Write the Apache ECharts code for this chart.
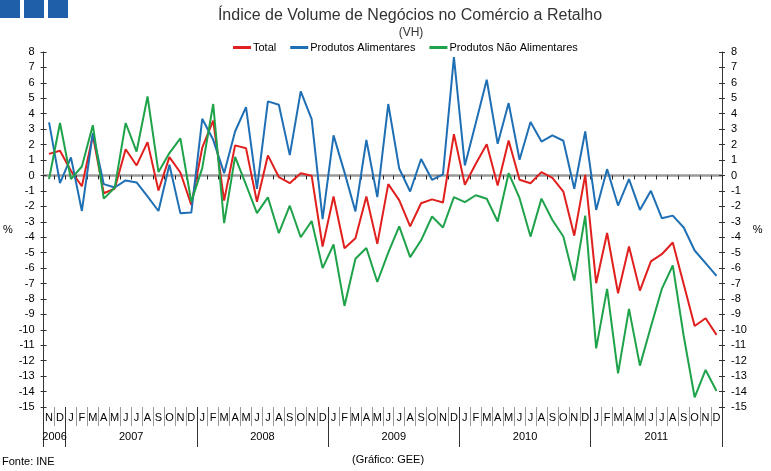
<!DOCTYPE html>
<html>
<head>
<meta charset="utf-8">
<script src="https://cdn.jsdelivr.net/npm/echarts@6/dist/echarts.min.js"></script>
<style>html,body{margin:0;padding:0;background:#fff;}#c{width:771px;height:471px;}</style>
</head>
<body>
<div id="c"></div>
<script>
// Months Nov 2006 .. Dec 2011
const monthLabels = ['N','D',
 'J','F','M','A','M','J','J','A','S','O','N','D',
 'J','F','M','A','M','J','J','A','S','O','N','D',
 'J','F','M','A','M','J','J','A','S','O','N','D',
 'J','F','M','A','M','J','J','A','S','O','N','D',
 'J','F','M','A','M','J','J','A','S','O','N','D'];
const yearLabels = ['2006','2007','2008','2009','2010','2011'];
const yearStart = [0, 2, 14, 26, 38, 50];
const yearLabelIndex = [0, 7, 19, 31, 43, 55];
const categories = monthLabels.map((m, i) => {
  let y = 0; for (let k = 0; k < yearStart.length; k++) if (i >= yearStart[k]) y = k;
  return m + ' ' + yearLabels[y] + ' #' + i;
});

const total = [1.4, 1.6,
 0.3, -0.7, 2.6, -1.15, -0.85, 1.7, 0.65, 2.16, -0.97, 1.19, 0.19, -1.9,
 1.8, 3.55, -1.63, 1.95, 1.77, -1.7, 1.3, -0.1, -0.5, 0.14, -0.02, -4.6,
 -1.36, -4.71, -4.06, -1.36, -4.43, -0.56, -1.6, -3.3, -1.8, -1.55, -1.75, 2.68,
 -0.6, 0.76, 2.03, -0.65, 2.27, -0.28, -0.5, 0.22, -0.15, -1.04, -3.9, 0.04,
 -6.98, -3.73, -7.63, -4.6, -7.46, -5.57, -5.1, -4.34, -7.05, -9.75, -9.25, -10.33];
const alimentares = [3.44, -0.5,
 1.17, -2.3, 2.75, -0.56, -0.78, -0.32, -0.45, -1.35, -2.3, 0.7, -2.44, -2.4,
 3.67, 2.31, 0.15, 2.85, 4.43, -0.87, 4.8, 4.58, 1.32, 5.45, 3.65, -2.83,
 2.6, 0.2, -2.33, 2.3, -1.4, 4.63, 0.45, -1.04, 1.07, -0.28, 0.07, 7.67,
 0.65, 3.4, 6.2, 2.05, 4.69, 1.02, 3.46, 2.2, 2.6, 2.25, -0.86, 2.85,
 -2.23, 0.41, -1.95, -0.24, -2.23, -0.99, -2.77, -2.6, -3.37, -4.86, -5.68, -6.5];
const naoAlimentares = [-0.24, 3.4,
 -0.24, 0.58, 3.26, -1.5, -0.8, 3.4, 1.55, 5.12, 0.22, 1.45, 2.4, -1.7,
 0.48, 4.63, -3.09, 1.2, -0.6, -2.44, -1.42, -3.74, -1.96, -4.0, -2.95, -6.0,
 -4.47, -8.45, -5.4, -4.7, -6.9, -5.0, -3.3, -5.29, -4.2, -2.66, -3.37, -1.4,
 -1.73, -1.28, -1.51, -2.98, 0.15, -1.47, -3.96, -1.5, -2.88, -3.95, -6.81, -2.6,
 -11.2, -7.35, -12.82, -8.64, -12.32, -9.8, -7.35, -5.83, -10.4, -14.37, -12.6, -13.96];

const FONT = 'Liberation Sans, Arial, sans-serif';
const chart = echarts.init(document.getElementById('c'));
const yBase = {
  type: 'value', min: -15, max: 8, interval: 1,
  splitLine: {show: false},
  axisLine: {show: true, lineStyle: {color: '#333', width: 1}},
  axisTick: {show: true, length: 3, lineStyle: {color: '#333'}},
  axisLabel: {color: '#000', fontSize: 11, fontFamily: FONT, margin: 9},
  name: '%', nameLocation: 'middle', nameRotate: 0, nameGap: 30,
  nameTextStyle: {color: '#000', fontSize: 11, fontFamily: FONT}
};
const yInner = {
  type: 'value', min: -15, max: 8, interval: 1,
  splitLine: {show: false},
  axisLine: {show: false},
  axisTick: {show: true, inside: true, length: 3, lineStyle: {color: '#333'}},
  axisLabel: {show: false}
};
chart.setOption({
  backgroundColor: '#fff',
  animation: false,
  title: [
    {text: 'Índice de Volume de Negócios no Comércio a Retalho', left: 405, top: 3, textAlign: 'center',
     textStyle: {fontSize: 16, fontWeight: 'normal', color: '#333', fontFamily: FONT}},
    {text: '(VH)', left: 406, top: 22, textAlign: 'center',
     textStyle: {fontSize: 12, fontWeight: 'normal', color: '#333', fontFamily: FONT}}
  ],
  legend: {
    left: 228, top: 37, icon: 'rect', itemWidth: 18, itemHeight: 3, itemGap: 14,
    textStyle: {fontSize: 11, color: '#000', fontFamily: FONT, padding: [0, 0, 0, -3]},
    data: ['Total', 'Produtos Alimentares', 'Produtos Não Alimentares']
  },
  grid: {left: 43, right: 49, top: 52, bottom: 64, containLabel: false},
  xAxis: [
    { // zero line
      type: 'category', data: categories, position: 'bottom',
      axisLine: {show: true, onZero: true, lineStyle: {color: '#9a9a9a', width: 2.5}},
      axisTick: {show: true, interval: 0, length: 4, lineStyle: {color: '#222'}},
      axisLabel: {show: false}, splitLine: {show: false}
    },
    { // months
      type: 'category', data: categories, position: 'bottom',
      axisLine: {show: false, onZero: false},
      axisTick: {show: true, interval: 0, length: 19, lineStyle: {color: '#999'}},
      axisLabel: {show: true, interval: 0, margin: 5, fontSize: 11, color: '#000', fontFamily: FONT,
        formatter: (v, i) => monthLabels[i]},
      splitLine: {show: false}
    },
    { // years
      type: 'category', data: categories, position: 'bottom',
      axisLine: {show: false, onZero: false},
      axisTick: {show: true, length: 40, lineStyle: {color: '#333'},
        interval: (i) => yearStart.indexOf(i) >= 0},
      axisLabel: {show: true, margin: 24, fontSize: 11, color: '#000', fontFamily: FONT,
        interval: (i) => yearLabelIndex.indexOf(i) >= 0,
        padding: [0, 0, 0, 11],
        formatter: (v, i) => { const k = yearLabelIndex.indexOf(i); return k >= 0 ? yearLabels[k] : ''; }},
      splitLine: {show: false}
    }
  ],
  yAxis: [
    Object.assign({}, yBase, {position: 'left'}),
    Object.assign({}, yBase, {position: 'right'}),
    Object.assign({}, yInner, {position: 'left'}),
    Object.assign({}, yInner, {position: 'right'})
  ],
  series: [
    {name: 'Total', type: 'line', data: total, symbol: 'none', xAxisIndex: 0, yAxisIndex: 0,
     color: '#e0201e', lineStyle: {width: 2, color: '#e0201e'}},
    {name: 'Produtos Alimentares', type: 'line', data: alimentares, symbol: 'none', xAxisIndex: 0, yAxisIndex: 0,
     color: '#1f6fb4', lineStyle: {width: 2, color: '#1f6fb4'}},
    {name: 'Produtos Não Alimentares', type: 'line', data: naoAlimentares, symbol: 'none', xAxisIndex: 0, yAxisIndex: 0,
     color: '#1ea24a', lineStyle: {width: 2, color: '#1ea24a'}}
  ],
  graphic: [
    {type: 'rect', shape: {x: 0, y: 0, width: 20, height: 18}, style: {fill: '#1f5ea8'}},
    {type: 'rect', shape: {x: 24, y: 0, width: 20, height: 18}, style: {fill: '#1f5ea8'}},
    {type: 'rect', shape: {x: 48, y: 0, width: 20, height: 18}, style: {fill: '#1f5ea8'}},
    {type: 'text', left: 2, top: 456, style: {text: 'Fonte: INE', fontSize: 11, fill: '#000', fontFamily: FONT}},
    {type: 'text', left: 352, top: 454, style: {text: '(Gráfico: GEE)', fontSize: 11, fill: '#000', fontFamily: FONT}}
  ]
});
</script>
</body>
</html>
